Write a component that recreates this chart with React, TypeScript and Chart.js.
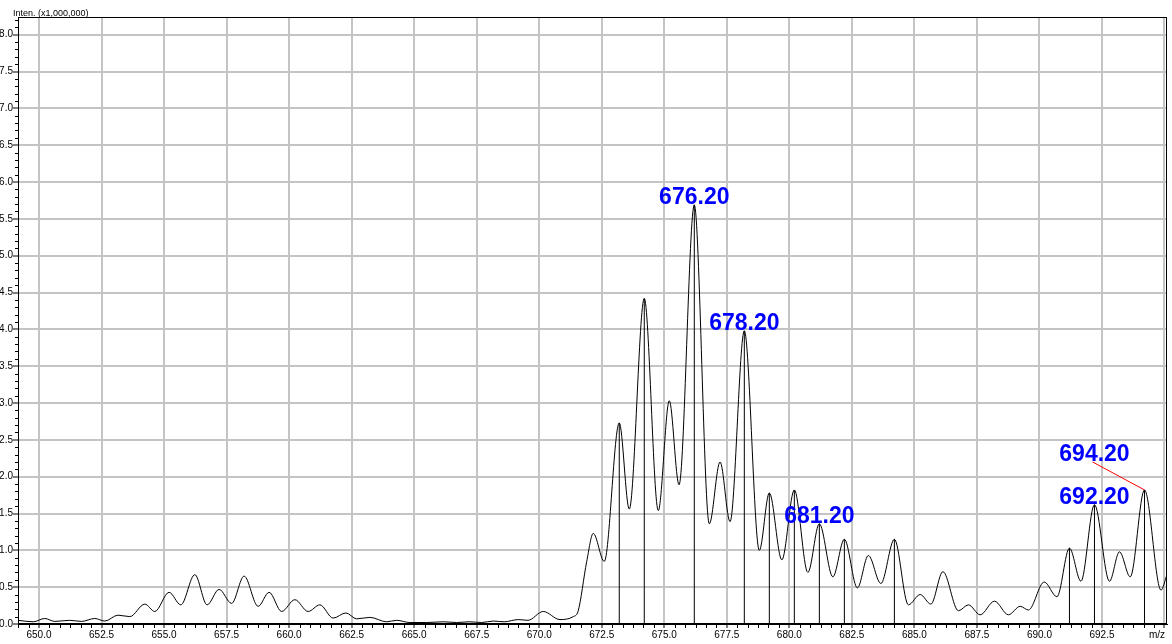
import React, { useEffect, useRef } from 'react';
import { Chart, registerables } from 'chart.js';

Chart.register(...registerables);

// Profile spectrum (m/z vs intensity x1,000,000), read at peaks and valleys
const profileMz = [
  649.16, 649.77, 650.23, 650.63, 651.23, 651.7, 652.23, 652.63, 653.16, 653.63,
  654.23, 654.63, 655.2, 655.67, 656.23, 656.72, 657.2, 657.7, 658.2, 658.76,
  659.2, 659.7, 660.23, 660.76, 661.23, 661.76, 662.27, 662.7, 663.23, 663.9,
  664.3, 664.83, 665.5, 666.17, 666.7, 667.2, 667.7, 668.16, 668.6, 669.16,
  669.55, 670.16, 670.83, 671.36, 671.55, 671.9, 672.16, 672.6, 673.2, 673.6,
  674.2, 674.76, 675.2, 675.59, 676.2, 676.8, 677.23, 677.63, 678.2, 678.8,
  679.2, 679.7, 680.2, 680.74, 681.2, 681.74, 682.2, 682.72, 683.16, 683.66,
  684.2, 684.76, 685.23, 685.66, 686.14, 686.76, 687.16, 687.63, 688.2, 688.76,
  689.23, 689.56, 690.19, 690.7, 691.2, 691.66, 692.2, 692.8, 693.2, 693.63,
  694.2, 694.86, 695.1,
];
const profileInt = [
  0.05, 0.03, 0.075, 0.035, 0.05, 0.035, 0.075, 0.04, 0.12, 0.1,
  0.27, 0.17, 0.43, 0.26, 0.67, 0.26, 0.47, 0.28, 0.65, 0.24,
  0.43, 0.17, 0.33, 0.17, 0.26, 0.08, 0.15, 0.07, 0.09, 0.03,
  0.05, 0.02, 0.02, 0.03, 0.02, 0.03, 0.02, 0.04, 0.03, 0.06,
  0.05, 0.17, 0.06, 0.1, 0.17, 0.85, 1.23, 0.85, 2.73, 1.56,
  4.42, 1.54, 3.03, 1.89, 5.69, 1.36, 2.2, 1.39, 3.98, 1.0,
  1.78, 0.87, 1.82, 0.7, 1.36, 0.64, 1.15, 0.49, 0.93, 0.55,
  1.15, 0.26, 0.4, 0.27, 0.71, 0.18, 0.26, 0.125, 0.31, 0.125,
  0.24, 0.19, 0.57, 0.37, 1.03, 0.58, 1.62, 0.58, 0.98, 0.64,
  1.82, 0.46, 0.67,
];

// Centroid sticks
const stickMz = [673.2, 674.2, 676.2, 678.2, 679.2, 680.2, 681.2, 682.2, 684.2, 691.2, 692.2, 694.2];
const stickInt = [2.73, 4.42, 5.69, 3.98, 1.78, 1.82, 1.36, 1.15, 1.15, 1.03, 1.62, 1.82];

// Peak labels
const labelMz = [676.2, 678.2, 681.2, 692.2, 694.2];
const labelText = ['676.20', '678.20', '681.20', '692.20', '694.20'];

const X_MIN = 649.16;
const X_MAX = 695.1;
const Y_MIN = 0;
const Y_MAX = 8.24;
const X_STEP = 2.5;
const Y_STEP = 0.5;
const Y_MINOR = 0.1;
const X_MINOR_DIV = 6;

const FONT = "'Liberation Sans', Arial, sans-serif";

const decorPlugin = {
  id: 'decor',
  afterDatasetsDraw(chart: any) {
    const { ctx, scales } = chart;
    const xs = scales.x;
    const ys = scales.y;
    // leader offsets (pixels) for displaced labels
    const offsets: Record<string, [number, number]> = { '694.20': [-50, -28] };
    ctx.save();
    ctx.font = `bold 23px ${FONT}`;
    ctx.textAlign = 'center';
    ctx.textBaseline = 'alphabetic';
    labelMz.forEach((mz, i) => {
      const idx = stickMz.indexOf(mz);
      const inten = stickInt[idx];
      const px = xs.getPixelForValue(mz);
      const py = ys.getPixelForValue(inten);
      const off = offsets[labelText[i]] || [0, 0];
      const lx = px + off[0];
      const ly = py + off[1];
      if (off[0] !== 0 || off[1] !== 0) {
        ctx.strokeStyle = '#ff0000';
        ctx.lineWidth = 1;
        ctx.beginPath();
        ctx.moveTo(lx - 2, ly);
        ctx.lineTo(px, py);
        ctx.stroke();
      }
      ctx.fillStyle = '#0000ff';
      ctx.fillText(labelText[i], lx, ly - 1);
    });
    ctx.restore();
  },
  afterDraw(chart: any) {
    const { ctx, chartArea, scales } = chart;
    const xs = scales.x;
    const ys = scales.y;
    ctx.save();
    // frame
    ctx.strokeStyle = '#000';
    ctx.lineWidth = 1;
    ctx.strokeRect(chartArea.left + 0.5, chartArea.top + 0.5, chartArea.right - chartArea.left - 1, chartArea.bottom - chartArea.top - 1);
    // y minor ticks
    ctx.beginPath();
    const nY = Math.round((Y_MAX - Y_MIN) / Y_MINOR);
    for (let i = 0; i <= nY; i++) {
      const v = Y_MIN + i * Y_MINOR;
      if (Math.abs(v / Y_STEP - Math.round(v / Y_STEP)) < 1e-6) continue;
      const py = Math.round(ys.getPixelForValue(v)) + 0.5;
      ctx.moveTo(chartArea.left - 3, py);
      ctx.lineTo(chartArea.left, py);
    }
    // x minor ticks
    const xStart = Math.ceil(X_MIN / X_STEP) * X_STEP - X_STEP;
    for (let m = xStart; m <= X_MAX + 1e-6; m += X_STEP) {
      for (let k = 1; k < X_MINOR_DIV; k++) {
        const v = m + (k * X_STEP) / X_MINOR_DIV;
        if (v < X_MIN || v > X_MAX) continue;
        const px = Math.round(xs.getPixelForValue(v)) + 0.5;
        ctx.moveTo(px, chartArea.bottom);
        ctx.lineTo(px, chartArea.bottom + 4);
      }
    }
    ctx.stroke();
    // axis titles
    ctx.fillStyle = '#000';
    ctx.font = `9px ${FONT}`;
    ctx.textAlign = 'left';
    ctx.textBaseline = 'alphabetic';
    ctx.fillText('Inten. (x1,000,000)', 13, 16);
    ctx.font = `10px ${FONT}`;
    ctx.textAlign = 'right';
    ctx.fillText('m/z', chartArea.right - 2, chartArea.bottom + 14);
    ctx.restore();
  },
};

export default function App() {
  const canvasRef = useRef<HTMLCanvasElement | null>(null);

  useEffect(() => {
    const canvas = canvasRef.current;
    if (!canvas) return;
    const chart = new Chart(canvas, {
      type: 'line',
      data: {
        datasets: [
          {
            type: 'line',
            label: 'profile',
            data: profileMz.map((x, i) => ({ x, y: profileInt[i] })),
            borderColor: '#000',
            borderWidth: 1,
            pointRadius: 0,
            fill: false,
            cubicInterpolationMode: 'monotone',
            order: 1,
          } as any,
          {
            type: 'bar',
            label: 'centroid',
            data: stickMz.map((x, i) => ({ x, y: stickInt[i] })),
            backgroundColor: '#000',
            borderWidth: 0,
            barThickness: 1,
            inflateAmount: 0,
            grouped: false,
            order: 2,
          } as any,
        ],
      },
      options: {
        responsive: false,
        animation: false,
        devicePixelRatio: 1,
        layout: { padding: { top: 17, right: 5, left: 0, bottom: 0 } },
        plugins: {
          legend: { display: false },
          tooltip: { enabled: false },
          title: { display: false },
        },
        scales: {
          x: {
            type: 'linear',
            min: X_MIN,
            max: X_MAX,
            offset: false,
            afterFit: (s: any) => { s.height = 20; },
            grid: {
              offset: false,
              color: '#c4c4c4',
              lineWidth: 2,
              drawTicks: true,
              tickLength: 4,
              tickColor: '#000',
              tickWidth: 1,
            },
            border: { color: '#000', width: 1 },
            ticks: {
              stepSize: X_STEP,
              includeBounds: false,
              autoSkip: false,
              maxRotation: 0,
              padding: 1,
              color: '#000',
              font: { family: FONT, size: 10 },
              callback: (v: any) => (Math.abs(Number(v) - 695) < 0.01 ? '' : Number(v).toFixed(1)),
            },
          },
          y: {
            type: 'linear',
            min: Y_MIN,
            max: Y_MAX,
            afterFit: (s: any) => { s.width = 18; },
            grid: {
              color: '#c4c4c4',
              lineWidth: 2,
              drawTicks: true,
              tickLength: 5,
              tickColor: '#000',
              tickWidth: 1,
            },
            border: { color: '#000', width: 1 },
            ticks: {
              stepSize: Y_STEP,
              includeBounds: false,
              autoSkip: false,
              padding: 0,
              color: '#000',
              font: { family: FONT, size: 10 },
              callback: (v: any) => Number(v).toFixed(1),
            },
          },
        },
      } as any,
      plugins: [decorPlugin],
    });
    return () => chart.destroy();
  }, []);

  return (
    <div style={{ position: 'fixed', left: 0, top: 0, width: 1172, height: 644, background: '#fff' }}>
      <canvas ref={canvasRef} width={1172} height={644} style={{ display: 'block' }} />
    </div>
  );
}
